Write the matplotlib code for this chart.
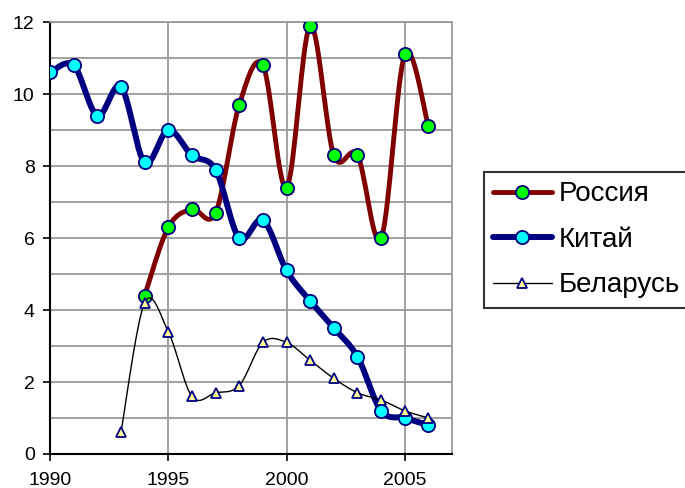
import numpy as np
import matplotlib
matplotlib.use("Agg")
import matplotlib.pyplot as plt
from matplotlib.ticker import MultipleLocator

plt.rcParams['font.family'] = ['Liberation Sans', 'DejaVu Sans']

# values
years_ru = [1994, 1995, 1996, 1997, 1998, 1999, 2000, 2001, 2002, 2003, 2004, 2005, 2006]
russia = [4.4, 6.3, 6.8, 6.7, 9.7, 10.8, 7.4, 11.9, 8.3, 8.3, 6.0, 11.1, 9.1]

years_cn = list(range(1990, 2007))
china = [10.6, 10.8, 9.4, 10.2, 8.1, 9.0, 8.3, 7.9, 6.0, 6.5, 5.1, 4.25, 3.5, 2.7, 1.2, 1.0, 0.8]

years_by = list(range(1993, 2007))
belarus = [0.6, 4.2, 3.4, 1.6, 1.7, 1.9, 3.1, 3.1, 2.6, 2.1, 1.7, 1.5, 1.2, 1.0]


def smooth(x, y, n=20):
    # Excel-like smoothed line (Catmull-Rom through the points)
    p = np.column_stack([x, y]).astype(float)
    p = np.vstack([p[0], p, p[-1]])
    out = []
    for i in range(1, len(p) - 2):
        p0, p1, p2, p3 = p[i - 1], p[i], p[i + 1], p[i + 2]
        c1 = p1 + (p2 - p0) / 6
        c2 = p2 - (p3 - p1) / 6
        t = np.linspace(0, 1, n)[:, None]
        seg = ((1 - t) ** 3) * p1 + 3 * ((1 - t) ** 2) * t * c1 + 3 * (1 - t) * t ** 2 * c2 + t ** 3 * p2
        out.append(seg)
    s = np.vstack(out)
    return s[:, 0], s[:, 1]


fig = plt.figure(figsize=(6.85, 4.88), dpi=100)
ax = fig.add_axes([0.073, 0.0697, 0.587, 0.885])

series = [
    (years_ru, russia, 'Россия', '#800000', 3.5, 'o', '#00ff00', 9.5, 3),
    (years_cn, china, 'Китай', '#000080', 4.3, 'o', '#00ffff', 9.5, 4),
    (years_by, belarus, 'Беларусь', 'black', 1.0, '^', '#ffff99', 6.5, 5),
]
handles = []
for xs, ys, name, col, lw, mk, mfc, ms, z in series:
    sx, sy = smooth(xs, ys)
    ax.plot(sx, sy, color=col, lw=lw, solid_capstyle='round', zorder=z)
    ax.plot(xs, ys, ls='none', marker=mk, ms=ms, mfc=mfc, mec='#000080',
            mew=1.3, zorder=z + 0.5)
    h, = ax.plot([], [], color=col, lw=lw, marker=mk, ms=ms, mfc=mfc,
                 mec='#000080', mew=1.3, solid_capstyle='round')
    handles.append(h)

ax.set_xlim(1990, 2007)
ax.set_ylim(0, 12)
ax.set_xticks([1990, 1995, 2000, 2005])
ax.set_yticks(range(0, 13, 2))
ax.yaxis.set_minor_locator(MultipleLocator(1))
ax.tick_params(axis='both', which='major', labelsize=14, length=5, width=1.2,
               direction='out', colors='black')
ax.tick_params(axis='y', which='major', pad=6)
ax.tick_params(axis='x', which='major', pad=8)
ax.tick_params(axis='y', which='minor', length=0)
ax.grid(True, which='both', axis='y', color='#999999', lw=1.3)
ax.grid(True, which='major', axis='x', color='#999999', lw=1.3)
ax.set_axisbelow(True)
for s in ['top', 'right']:
    ax.spines[s].set_color('#999999')
    ax.spines[s].set_linewidth(1.3)
for s in ['left', 'bottom']:
    ax.spines[s].set_linewidth(1.5)

leg = fig.legend(handles=handles, labels=['Россия', 'Китай', 'Беларусь'],
                 loc='upper left', bbox_to_anchor=(0.706, 0.648),
                 fontsize=20, frameon=True, fancybox=False, numpoints=1,
                 handlelength=2.1, handletextpad=0.25, borderpad=0.35,
                 labelspacing=0.7, borderaxespad=0)
leg.get_frame().set_edgecolor('black')
leg.get_frame().set_linewidth(1.5)

fig.savefig('out.png', dpi=100)
